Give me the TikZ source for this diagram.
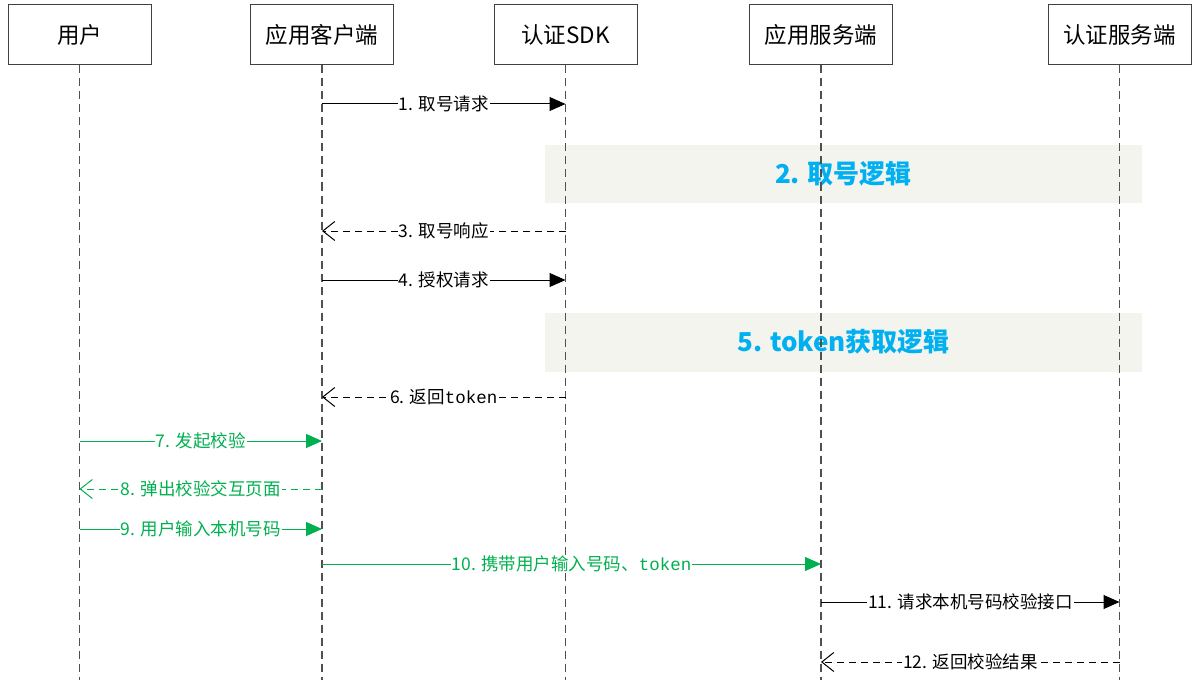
\documentclass[tikz,border=0pt]{standalone}
\usepackage{fontspec}
\setmainfont{Noto Sans CJK SC}
\newfontfamily\mono{Liberation Mono}
\usetikzlibrary{arrows.meta}
\definecolor{okgreen}{RGB}{0,176,80}
\definecolor{titleblue}{RGB}{0,176,240}
\definecolor{bandgray}{RGB}{244,244,239}
\definecolor{lifegray}{RGB}{80,80,80}
\begin{document}
\begin{tikzpicture}[x=1pt,y=-1pt,
  actor/.style={draw=black!75, line width=1pt, minimum width=143pt,
    minimum height=60pt, inner sep=0pt, font=\fontsize{22.5}{24}\selectfont},
  life/.style={draw=lifegray, line width=1.1pt, dash pattern=on 8pt off 5pt},
  call/.style={line width=1pt, -{Triangle[length=16pt,width=14pt]}},
  reply/.style={line width=1pt, dash pattern=on 7pt off 5pt,
    -{Straight Barb[length=12pt,width=19pt,line width=1pt]}},
  lbl/.style={fill=white, inner sep=1pt, font=\fontsize{17.5}{19}\selectfont},
  band/.style={fill=bandgray, draw=none},
  bandtext/.style={text=titleblue, font=\fontsize{26}{28}\selectfont\bfseries},
  ok/.style={draw=okgreen, text=okgreen}]
\useasboundingbox (0,0) rectangle (1197,698);

% participants
\node[actor] (u) at (79.5,35) {用户};
\node[actor] (c) at (322,35) {应用客户端};
\node[actor] (s) at (565.5,35) {认证SDK};
\node[actor] (a) at (821,35) {应用服务端};
\node[actor] (v) at (1119.5,35) {认证服务端};

% shaded processing bands
\fill[band] (545,145) rectangle (1142,203);
\fill[band] (545,313) rectangle (1142,372);
\node[bandtext] (b2) at (843.5,174) {2. 取号逻辑};
\node[bandtext] (b5) at (843.5,342) {5. token获取逻辑};

% lifelines
\foreach \p in {u,c,s,a,v}
  \draw[life] (\p.south) -- (\p.south |- 0,680);

% messages
\draw[call] (c |- 0,104) -- node[lbl] {1. 取号请求} (s |- 0,104);
\draw[reply] (s |- 0,231) -- node[lbl] {3. 取号响应} (c |- 0,231);
\draw[call] (c |- 0,280) -- node[lbl] {4. 授权请求} (s |- 0,280);
\draw[reply] (s |- 0,397) -- node[lbl] {6. 返回{\mono token}} (c |- 0,397);
\draw[call,ok] (u |- 0,441) -- node[lbl] {7. 发起校验} (c |- 0,441);
\draw[reply,ok] (c |- 0,489) -- node[lbl] {8. 弹出校验交互页面} (u |- 0,489);
\draw[call,ok] (u |- 0,529) -- node[lbl] {9. 用户输入本机号码} (c |- 0,529);
\draw[call,ok] (c |- 0,564) -- node[lbl] {10. 携带用户输入号码、{\mono token}} (a |- 0,564);
\draw[call] (a |- 0,602) -- node[lbl] {11. 请求本机号码校验接口} (v |- 0,602);
\draw[reply] (v |- 0,662) -- node[lbl] {12. 返回校验结果} (a |- 0,662);
\end{tikzpicture}
\end{document}
